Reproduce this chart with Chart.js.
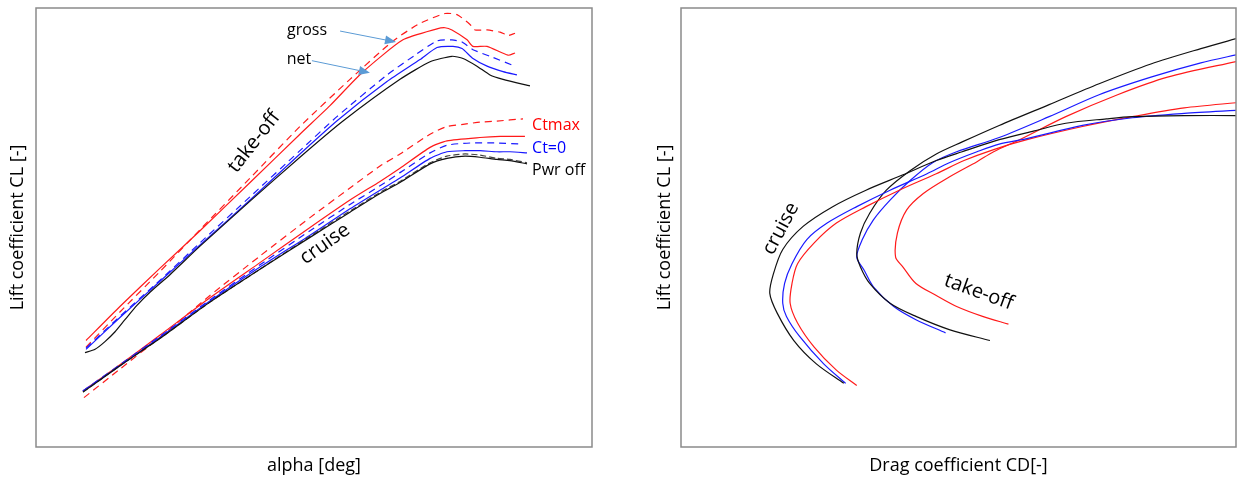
<!DOCTYPE html>
<html>
<head>
<meta charset="utf-8">
<script src="https://cdn.jsdelivr.net/npm/chart.js@4.4.0/dist/chart.umd.min.js"></script>
<style>
  html, body { margin: 0; padding: 0; background: #fff; }
  #wrap { position: relative; width: 1239px; height: 479px; }
  #lift { position: absolute; left: 0; top: 0; }
  #polar { position: absolute; left: 640px; top: 0; }
</style>
</head>
<body>
<div id="wrap">
  <canvas id="lift" width="620" height="479"></canvas>
  <canvas id="polar" width="599" height="479"></canvas>
</div>
<script>
// ---- lift curves, take-off (alpha in deg, CL) ----
const toGrossCtmaxAlpha = [-5.12, -3.17, -0.86, 1.44, 4.32, 7.19, 10.07, 12.55, 14.10, 15.54, 16.23, 16.98, 17.27, 17.96, 18.71, 19.17, 19.57];
const toGrossCtmaxCL    = [0.51, 0.83, 1.20, 1.58, 2.05, 2.52, 2.95, 3.30, 3.46, 3.55, 3.54, 3.45, 3.40, 3.40, 3.38, 3.35, 3.37];
const toNetCtmaxAlpha   = [-5.12, -3.17, -0.86, 1.44, 4.32, 7.19, 8.92, 10.76, 13.12, 15.08, 15.54, 15.94, 16.81, 17.15, 17.96, 19.17, 19.57];
const toNetCtmaxCL      = [0.57, 0.88, 1.23, 1.57, 2.01, 2.45, 2.71, 3.01, 3.31, 3.41, 3.42, 3.40, 3.31, 3.25, 3.25, 3.17, 3.19];
const toGrossCt0Alpha   = [-5.12, -3.17, -0.86, 1.44, 4.32, 7.19, 9.32, 12.20, 13.81, 15.08, 15.94, 16.52, 17.15, 18.13, 19.57];
const toGrossCt0CL      = [0.50, 0.79, 1.12, 1.46, 1.88, 2.30, 2.61, 2.99, 3.17, 3.30, 3.31, 3.29, 3.22, 3.16, 3.07];
const toNetCt0Alpha     = [-5.12, -3.17, -0.86, 1.44, 4.32, 7.19, 9.38, 12.20, 14.10, 15.08, 16.00, 16.52, 17.15, 17.96, 18.88, 19.68];
const toNetCt0CL        = [0.49, 0.78, 1.11, 1.44, 1.85, 2.27, 2.58, 2.93, 3.13, 3.24, 3.25, 3.23, 3.14, 3.07, 3.02, 2.99];
const toPwrOffAlpha     = [-5.18, -4.60, -4.03, -3.45, -2.88, -2.19, -1.44, -0.29, 1.44, 4.32, 7.19, 9.67, 12.95, 14.68, 15.94, 16.58, 17.38, 18.13, 18.88, 20.43];
const toPwrOffCL        = [0.46, 0.49, 0.56, 0.65, 0.76, 0.89, 1.01, 1.17, 1.43, 1.84, 2.24, 2.57, 2.95, 3.11, 3.16, 3.14, 3.07, 2.99, 2.95, 2.89];

// ---- lift curves, cruise ----
const crGrossCtmaxAlpha = [-5.24, -3.17, -0.86, 2.01, 4.89, 7.77, 10.07, 11.80, 12.95, 14.68, 15.65, 16.58, 17.55, 18.53, 20.03];
const crGrossCtmaxCL    = [0.05, 0.31, 0.60, 0.98, 1.34, 1.69, 1.96, 2.16, 2.27, 2.45, 2.52, 2.54, 2.56, 2.57, 2.59];
const crNetCtmaxAlpha   = [-5.30, -3.17, -0.86, 2.01, 4.89, 7.77, 10.07, 11.80, 12.95, 14.68, 15.65, 17.55, 18.71, 20.14];
const crNetCtmaxCL      = [0.11, 0.35, 0.62, 0.96, 1.28, 1.60, 1.85, 2.02, 2.14, 2.33, 2.39, 2.42, 2.43, 2.43];
const crGrossCt0Alpha   = [-5.30, -3.17, -0.86, 2.01, 4.89, 7.77, 10.07, 11.80, 12.95, 14.68, 15.65, 16.98, 18.53, 20.03];
const crGrossCt0CL      = [0.11, 0.35, 0.61, 0.94, 1.26, 1.57, 1.81, 1.98, 2.10, 2.28, 2.35, 2.37, 2.37, 2.36];
const crNetCt0Alpha     = [-5.30, -3.17, -0.86, 2.01, 4.89, 7.77, 10.07, 11.80, 12.95, 14.68, 15.65, 16.69, 17.55, 18.53, 19.28, 20.26];
const crNetCt0CL        = [0.11, 0.34, 0.60, 0.93, 1.24, 1.53, 1.77, 1.94, 2.05, 2.23, 2.29, 2.30, 2.30, 2.29, 2.29, 2.28];
const crPwrOffAlpha     = [-5.30, -3.17, -0.86, 2.01, 4.89, 7.77, 10.07, 11.80, 12.95, 14.68, 15.65, 16.69, 17.55, 18.53, 19.28, 20.26];
const crPwrOffCL        = [0.10, 0.34, 0.59, 0.92, 1.22, 1.51, 1.74, 1.91, 2.01, 2.18, 2.23, 2.25, 2.24, 2.22, 2.21, 2.18];
const crPwrOffGrossCL   = [0.10, 0.34, 0.59, 0.92, 1.22, 1.52, 1.75, 1.92, 2.02, 2.19, 2.25, 2.27, 2.26, 2.23, 2.22, 2.19];

// ---- drag polars (CD, CL) ----
const polToCtmaxCD = [0.177, 0.163, 0.149, 0.138, 0.127, 0.120, 0.116, 0.117, 0.122, 0.131, 0.145, 0.160, 0.169, 0.183, 0.208, 0.236, 0.263, 0.302];
const polToCtmaxCL = [0.72, 0.79, 0.88, 0.98, 1.09, 1.24, 1.33, 1.55, 1.76, 1.91, 2.06, 2.20, 2.29, 2.40, 2.61, 2.81, 2.97, 3.12];
const polToCt0CD   = [0.143, 0.127, 0.115, 0.104, 0.099, 0.095, 0.098, 0.104, 0.113, 0.124, 0.136, 0.149, 0.172, 0.199, 0.226, 0.254, 0.281, 0.302];
const polToCt0CL   = [0.64, 0.76, 0.88, 1.06, 1.21, 1.33, 1.49, 1.67, 1.85, 2.03, 2.19, 2.29, 2.42, 2.61, 2.81, 2.97, 3.10, 3.18];
const polToOffCD   = [0.167, 0.145, 0.127, 0.113, 0.102, 0.097, 0.095, 0.097, 0.102, 0.111, 0.124, 0.138, 0.152, 0.172, 0.199, 0.226, 0.254, 0.281, 0.302];
const polToOffCL   = [0.57, 0.67, 0.79, 0.91, 1.09, 1.24, 1.36, 1.55, 1.73, 1.94, 2.12, 2.27, 2.38, 2.53, 2.72, 2.91, 3.09, 3.23, 3.33];
const polCrCtmaxCD = [0.095, 0.084, 0.072, 0.063, 0.059, 0.060, 0.063, 0.072, 0.084, 0.100, 0.118, 0.138, 0.153, 0.169, 0.187, 0.217, 0.244, 0.272, 0.302];
const polCrCtmaxCL = [0.16, 0.30, 0.51, 0.73, 0.91, 1.09, 1.27, 1.46, 1.64, 1.79, 1.94, 2.09, 2.21, 2.31, 2.40, 2.52, 2.61, 2.69, 2.74];
const polCrCt0CD   = [0.089, 0.077, 0.064, 0.057, 0.055, 0.056, 0.060, 0.068, 0.079, 0.095, 0.113, 0.133, 0.145, 0.160, 0.172, 0.187, 0.217, 0.244, 0.272, 0.302];
const polCrCt0CL   = [0.18, 0.36, 0.61, 0.79, 0.91, 1.09, 1.27, 1.49, 1.64, 1.79, 1.94, 2.09, 2.19, 2.29, 2.36, 2.41, 2.53, 2.60, 2.64, 2.67];
const polCrOffCD   = [0.088, 0.073, 0.061, 0.052, 0.048, 0.050, 0.055, 0.066, 0.082, 0.100, 0.120, 0.138, 0.152, 0.172, 0.191, 0.208, 0.230, 0.244, 0.272, 0.302];
const polCrOffCL   = [0.18, 0.36, 0.57, 0.82, 1.00, 1.18, 1.40, 1.61, 1.79, 1.94, 2.08, 2.21, 2.29, 2.40, 2.48, 2.55, 2.59, 2.61, 2.62, 2.62];

const RED = '#ff1a1a', BLUE = '#1a1aff', BLACK = '#111111';
const DASH = [7, 5];
const FONT = "'Open Sans', 'DejaVu Sans', sans-serif";

Chart.defaults.font.family = FONT;
Chart.defaults.color = '#000';

function pts(xs, ys) {
  return xs.map((x, i) => ({ x: x, y: ys[i] }));
}

function line(xs, ys, color, dash, tension) {
  return {
    data: pts(xs, ys),
    borderColor: color,
    borderWidth: 1.2,
    borderDash: dash || [],
    pointRadius: 0,
    fill: false,
    tension: tension
  };
}

// grey frame round the plot area
const boxPlugin = {
  id: 'box',
  afterDraw(chart) {
    const a = chart.chartArea, ctx = chart.ctx;
    ctx.save();
    ctx.strokeStyle = '#8a8a8a';
    ctx.lineWidth = 1.5;
    ctx.strokeRect(a.left, a.top, a.right - a.left, a.bottom - a.top);
    ctx.restore();
  }
};

// free text and arrows placed in data coordinates
const notesPlugin = {
  id: 'notes',
  afterDatasetsDraw(chart, args, opts) {
    const ctx = chart.ctx, sx = chart.scales.x, sy = chart.scales.y;
    ctx.save();
    (opts.arrows || []).forEach(a => {
      const x1 = sx.getPixelForValue(a.from[0]), y1 = sy.getPixelForValue(a.from[1]);
      const x2 = sx.getPixelForValue(a.to[0]), y2 = sy.getPixelForValue(a.to[1]);
      const ang = Math.atan2(y2 - y1, x2 - x1);
      ctx.strokeStyle = '#5b9bd5';
      ctx.fillStyle = '#5b9bd5';
      ctx.lineWidth = 1;
      ctx.beginPath();
      ctx.moveTo(x1, y1);
      ctx.lineTo(x2 - 8 * Math.cos(ang), y2 - 8 * Math.sin(ang));
      ctx.stroke();
      ctx.beginPath();
      ctx.moveTo(x2, y2);
      ctx.lineTo(x2 - 11 * Math.cos(ang) + 4.5 * Math.sin(ang), y2 - 11 * Math.sin(ang) - 4.5 * Math.cos(ang));
      ctx.lineTo(x2 - 11 * Math.cos(ang) - 4.5 * Math.sin(ang), y2 - 11 * Math.sin(ang) + 4.5 * Math.cos(ang));
      ctx.closePath();
      ctx.fill();
    });
    (opts.texts || []).forEach(t => {
      ctx.save();
      ctx.translate(sx.getPixelForValue(t.x), sy.getPixelForValue(t.y));
      ctx.rotate((t.rot || 0) * Math.PI / 180);
      ctx.font = t.size + 'px ' + FONT;
      ctx.fillStyle = t.color || '#000';
      ctx.textAlign = t.align || 'center';
      ctx.textBaseline = 'middle';
      ctx.fillText(t.text, 0, 0);
      ctx.restore();
    });
    ctx.restore();
  }
};

function axes(xMin, xMax, yMin, yMax, xTitle, yTitle, yPadBottom) {
  return {
    x: {
      type: 'linear', min: xMin, max: xMax,
      grid: { display: false, drawTicks: false },
      border: { display: false },
      ticks: { display: false },
      title: { display: true, text: xTitle, font: { size: 18 }, padding: { top: 8.2, bottom: 0 } }
    },
    y: {
      type: 'linear', min: yMin, max: yMax,
      grid: { display: false, drawTicks: false },
      border: { display: false },
      ticks: { display: false },
      title: { display: true, text: yTitle, font: { size: 18 }, padding: { top: 0, bottom: yPadBottom } }
    }
  };
}

new Chart(document.getElementById('lift'), {
  type: 'line',
  data: {
    datasets: [
      line(crPwrOffAlpha, crPwrOffCL, BLACK, null, 0.2),
      line(crPwrOffAlpha, crPwrOffGrossCL, '#444', [6, 3], 0.2),
      line(crNetCt0Alpha, crNetCt0CL, BLUE, null, 0.2),
      line(crGrossCt0Alpha, crGrossCt0CL, BLUE, DASH, 0.2),
      line(crNetCtmaxAlpha, crNetCtmaxCL, RED, null, 0.2),
      line(crGrossCtmaxAlpha, crGrossCtmaxCL, RED, DASH, 0.2),
      line(toPwrOffAlpha, toPwrOffCL, BLACK, null, 0.2),
      line(toNetCt0Alpha, toNetCt0CL, BLUE, null, 0.2),
      line(toGrossCt0Alpha, toGrossCt0CL, BLUE, DASH, 0.2),
      line(toNetCtmaxAlpha, toNetCtmaxCL, RED, null, 0.2),
      line(toGrossCtmaxAlpha, toGrossCtmaxCL, RED, DASH, 0.2)
    ]
  },
  options: {
    responsive: false,
    animation: false,
    layout: { padding: { left: 7.2, right: 28, top: 8, bottom: 2.2 } },
    scales: axes(-8, 24, -0.4, 3.6, 'alpha [deg]', 'Lift coefficient CL [-]', 7.2),
    plugins: {
      legend: { display: false },
      tooltip: { enabled: false },
      notes: {
        texts: [
          { text: 'take-off', x: 4.55, y: 2.38, rot: -52, size: 20 },
          { text: 'cruise', x: 8.63, y: 1.45, rot: -35, size: 20 },
          { text: 'gross', x: 7.60, y: 3.40, size: 16 },
          { text: 'net', x: 7.14, y: 3.13, size: 16 },
          { text: 'Ctmax', x: 20.55, y: 2.53, size: 16, align: 'left', color: '#ff0000' },
          { text: 'Ct=0', x: 20.55, y: 2.32, size: 16, align: 'left', color: '#0000ff' },
          { text: 'Pwr off', x: 20.55, y: 2.12, size: 16, align: 'left' }
        ],
        arrows: [
          { from: [9.50, 3.39], to: [12.72, 3.29] },
          { from: [7.88, 3.12], to: [11.22, 3.01] }
        ]
      }
    }
  },
  plugins: [boxPlugin, notesPlugin]
});

new Chart(document.getElementById('polar'), {
  type: 'line',
  data: {
    datasets: [
      line(polCrOffCD, polCrOffCL, BLACK, null, 0.3),
      line(polCrCt0CD, polCrCt0CL, BLUE, null, 0.3),
      line(polCrCtmaxCD, polCrCtmaxCL, RED, null, 0.3),
      line(polToOffCD, polToOffCL, BLACK, null, 0.3),
      line(polToCt0CD, polToCt0CL, BLUE, null, 0.3),
      line(polToCtmaxCD, polToCtmaxCL, RED, null, 0.3)
    ]
  },
  options: {
    responsive: false,
    animation: false,
    layout: { padding: { left: 14.2, right: 3, top: 8, bottom: 2.2 } },
    scales: axes(0, 0.3, -0.4, 3.6, 'Drag coefficient CD[-]', 'Lift coefficient CL [-]', 5.2),
    plugins: {
      legend: { display: false },
      tooltip: { enabled: false },
      notes: {
        texts: [
          { text: 'cruise', x: 0.054, y: 1.59, rot: -62, size: 20 },
          { text: 'take-off', x: 0.161, y: 1.01, rot: 20, size: 20 }
        ]
      }
    }
  },
  plugins: [boxPlugin, notesPlugin]
});
</script>
</body>
</html>
